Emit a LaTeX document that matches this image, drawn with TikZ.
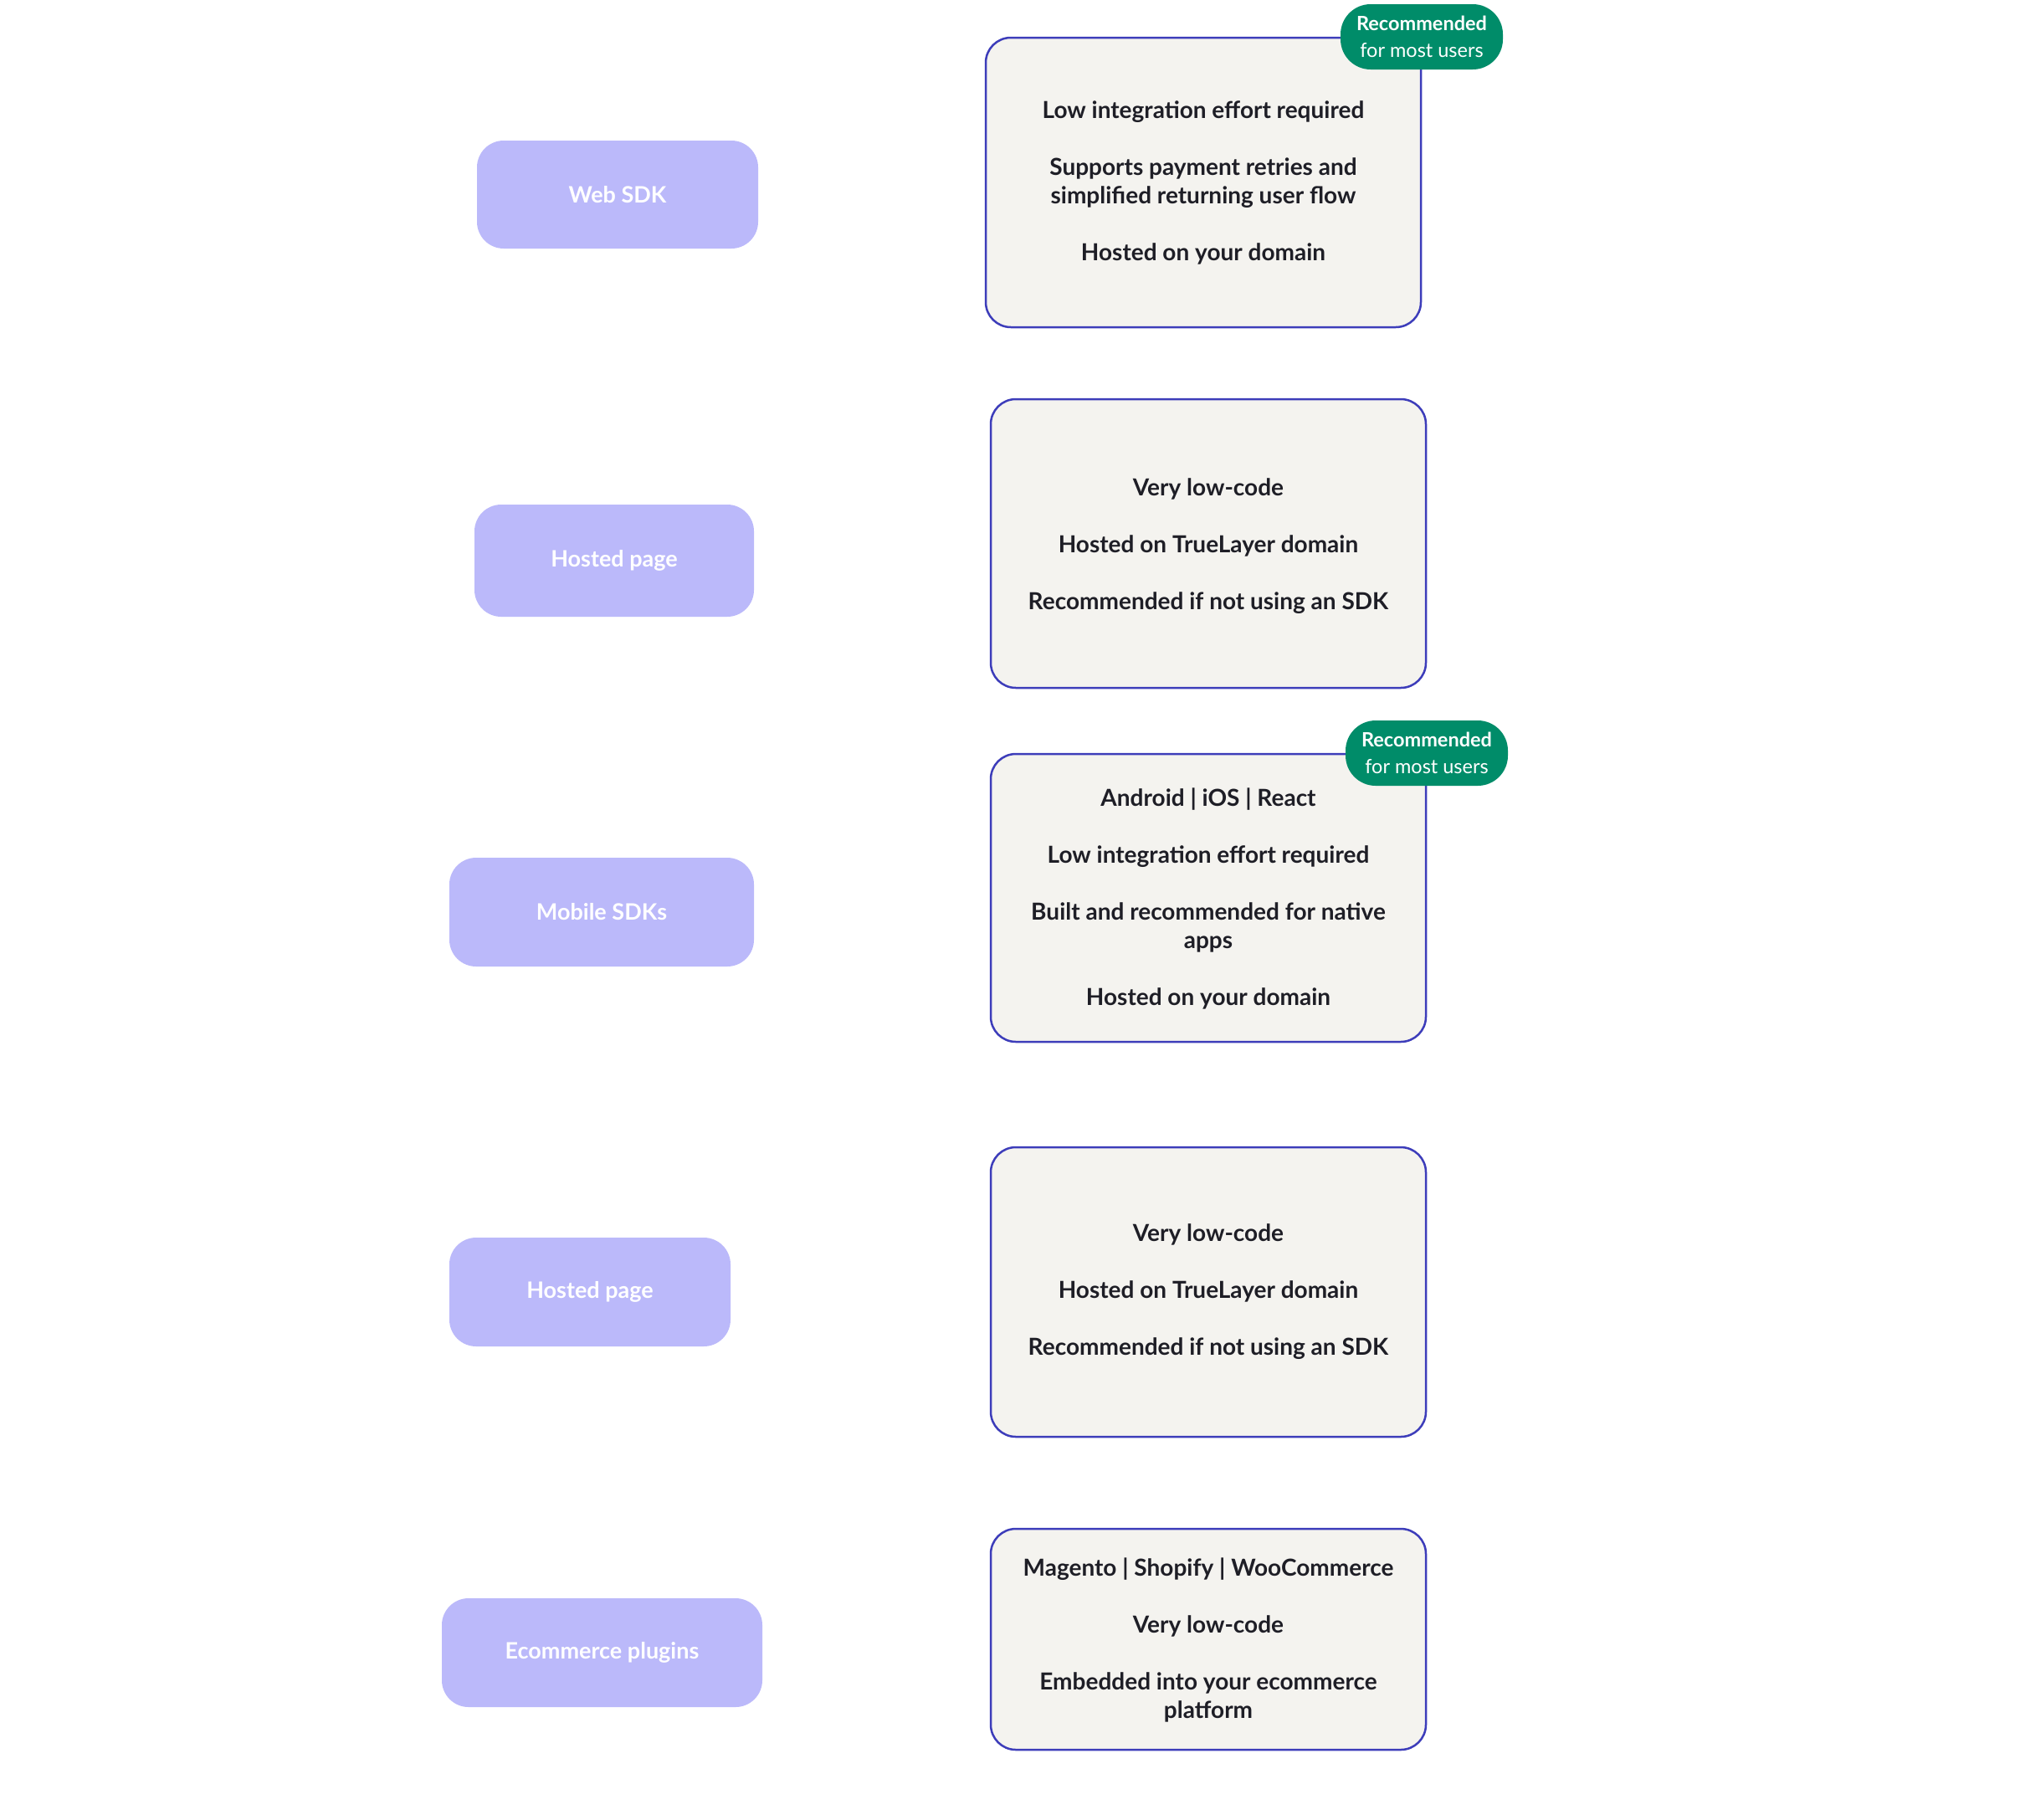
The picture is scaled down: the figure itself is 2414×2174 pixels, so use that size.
\documentclass[tikz,border=0pt]{standalone}
\usepackage{fontspec}
\setmainfont{Lato}
\definecolor{pfill}{HTML}{BBB9FA}
\definecolor{bfill}{HTML}{F4F3EF}
\definecolor{bline}{HTML}{3D3DBA}
\definecolor{gfill}{HTML}{008C69}
\definecolor{tdark}{HTML}{1E1E26}
\tikzset{
  opt/.style={fill=pfill, rounded corners=32pt, inner sep=0pt, text=white,
    font=\fontsize{27}{34}\selectfont\bfseries},
  detail/.style={fill=bfill, draw=bline, line width=2.5pt, rounded corners=30pt,
    inner sep=0pt, minimum width=520pt, align=center, text=tdark,
    font=\fontsize{28}{34}\selectfont\bfseries},
  badge/.style={fill=gfill, rounded corners=36pt, inner sep=0pt, text=white,
    align=center, minimum width=194pt, minimum height=78pt,
    font=\fontsize{23.5}{32}\selectfont},
}
\begin{document}
\begin{tikzpicture}[x=1pt,y=-1pt]
\useasboundingbox[fill=white] (0,0) rectangle (2414,2174);
% options
\node[opt, minimum width=336pt, minimum height=129pt] (w1) at (738,232.5) {Web SDK};
\node[opt, minimum width=334pt, minimum height=134pt] (h1) at (734,670) {Hosted page};
\node[opt, minimum width=364pt, minimum height=130pt] (m1) at (719,1090) {Mobile SDKs};
\node[opt, minimum width=336pt, minimum height=130pt] (h2) at (705,1544) {Hosted page};
\node[opt, minimum width=383pt, minimum height=130pt] (e1) at (719.5,1975) {Ecommerce plugins};
% details
\node[detail, minimum height=346pt] (b1) at (1438,218) {Low integration effort required\\[34pt]Supports payment retries and\\simplified returning user flow\\[34pt]Hosted on your domain};
\node[detail, minimum height=345pt] (b2) at (1444,649.5) {\rule{0pt}{28pt}Very low-code\\[34pt]Hosted on TrueLayer domain\\[34pt]Recommended if not using an SDK};
\node[detail, minimum height=344pt] (b3) at (1444,1073) {\rule{0pt}{24pt}Android | iOS | React\\[34pt]Low integration effort required\\[34pt]Built and recommended for native\\apps\\[34pt]Hosted on your domain};
\node[detail, minimum height=346pt] (b4) at (1444,1544) {Very low-code\\[34pt]Hosted on TrueLayer domain\\[34pt]Recommended if not using an SDK};
\node[detail, minimum height=264pt] (b5) at (1444,1959) {\rule{0pt}{24pt}Magento | Shopify | WooCommerce\\[34pt]Very low-code\\[34pt]Embedded into your ecommerce\\platform};
% badges
\node[badge] (g1) at (1699,44) {\textbf{Recommended}\\for most users};
\node[badge] (g2) at (1705,900) {\textbf{Recommended}\\for most users};
\end{tikzpicture}
\end{document}
